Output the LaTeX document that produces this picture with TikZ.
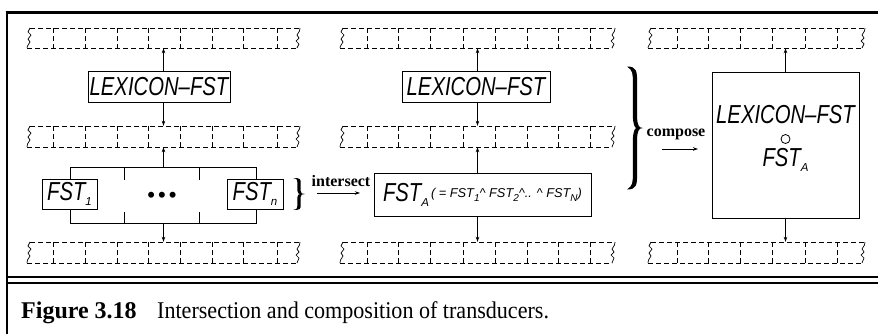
\documentclass[tikz,border=0pt]{standalone}
\usepackage{fontspec}
\setmainfont{Liberation Serif}
\newfontfamily\helv[FakeStretch=0.78]{Liberation Sans}
\newfontfamily\helvw{Liberation Sans}
\newfontfamily\capfont[FakeStretch=0.92]{Liberation Serif}
\usetikzlibrary{arrows.meta}
\newcommand\tapedraw[6]{%
  \node[tapebox, minimum width={(#3-#2)*1pt}, minimum height={(#5-#4)*1pt}] (#1) at ({(#2+#3)/2},{(#4+#5)/2}) {};
  \draw[dsh] (#2+3,#4) -- (#3,#4);
  \draw[dsh] (#2,#5) -- (#3-3,#5);
  \foreach \d in {#6} {\draw[dsh] (\d,#4) -- (\d,#5);}
  \draw[sq] (#2+3,#4) -- (#2+1,#4+4) -- (#2+4,#4+7) -- (#2+1,#4+11) -- (#2+3,#4+14) -- (#2+0.5,#4+18) -- (#2,#5);
  \draw[sq] (#3,#4) -- (#3-0.5,#4+3) -- (#3-3,#4+7) -- (#3-1,#4+10) -- (#3-4,#4+13) -- (#3-1,#4+16) -- (#3-3,#5);
}
% filled right brace: centre x, centre y, width, height, stroke thickness
\newcommand\bracefill[5]{%
  \fill (#1-#3/2,#2-#4/2)
    .. controls (#1+#5/2,#2-#4/2) and (#1+#5/2,#2-#4/2+0.04*#4) .. (#1+#5/2,#2-0.36*#4)
    -- (#1+#5/2,#2-0.1*#4)
    .. controls (#1+#5/2,#2-0.02*#4) and (#1+#3/4,#2) .. (#1+#3/2,#2)
    .. controls (#1+#3/4,#2) and (#1+#5/2,#2+0.02*#4) .. (#1+#5/2,#2+0.1*#4)
    -- (#1+#5/2,#2+0.36*#4)
    .. controls (#1+#5/2,#2+#4/2-0.04*#4) and (#1+#5/2,#2+#4/2) .. (#1-#3/2,#2+#4/2)
    .. controls (#1-#5/2,#2+#4/2-0.03*#4) and (#1-#5/2,#2+#4/2-0.06*#4) .. (#1-#5/2,#2+0.36*#4)
    -- (#1-#5/2,#2+0.1*#4)
    .. controls (#1-#5/2,#2+0.03*#4) and (#1,#2) .. (#1+#5/3,#2)
    .. controls (#1,#2) and (#1-#5/2,#2-0.03*#4) .. (#1-#5/2,#2-0.1*#4)
    -- (#1-#5/2,#2-0.36*#4)
    .. controls (#1-#5/2,#2-#4/2+0.06*#4) and (#1-#5/2,#2-#4/2+0.03*#4) .. (#1-#3/2,#2-#4/2)
    -- cycle;
}
\newcommand\sub[1]{\raisebox{-5pt}{\helvw\itshape\fontsize{11.5}{11.5}\selectfont #1}}
\newcommand\ssub[1]{\raisebox{-4pt}{\fontsize{10}{10}\selectfont #1}}
\begin{document}
\begin{tikzpicture}[x=1pt,y=-1pt,
  box/.style={draw,line width=0.9pt,inner sep=0pt,font=\helv\itshape\fontsize{26}{26}\selectfont},
  txt/.style={inner sep=0pt,font=\helv\itshape\fontsize{26}{26}\selectfont},
  tapebox/.style={inner sep=0pt,draw=none},
  dsh/.style={dash pattern=on 5pt off 3pt,line width=0.8pt},
  sq/.style={line width=0.7pt},
  arr/.style={-{Stealth[length=5pt,width=3.5pt]},line width=0.8pt},
  ln/.style={line width=0.9pt},
  lbl/.style={font=\bfseries\fontsize{16}{16}\selectfont,inner sep=0pt}]
\useasboundingbox (0,0) rectangle (878,333);
\clip (0,0) rectangle (878,333);
% frame
\draw[line width=3pt] (5.7,12) -- (890,12);
\draw[line width=2.6pt] (7,10.5) -- (7,340);
\draw[line width=2pt] (7,277) -- (890,277);
\draw[line width=2pt] (7,282.5) -- (890,282.5);
% tapes
\tapedraw{tL1}{27}{300}{28}{48}{53,85,117,148,180,212,243,277}
\tapedraw{tL2}{27}{300}{126}{147}{53,85,117,148,180,212,243,277}
\tapedraw{tL3}{27}{300}{242}{263}{53,85,117,148,180,212,243,277}
\tapedraw{tM1}{340}{615}{28}{48}{367,398,430,463,495,527,558,590}
\tapedraw{tM2}{340}{615}{126}{147}{367,398,430,463,495,527,558,590}
\tapedraw{tM3}{340}{615}{242}{263}{367,398,430,463,495,527,558,590}
\tapedraw{tR1}{648}{865}{28}{48}{677,708,740,772,805,837}
\tapedraw{tR3}{648}{865}{242}{263}{677,708,740,772,805,837}
% left column
\node[box,minimum width=142pt,minimum height=31pt] (lexL) at (159,86.5) {LEXICON–FST};
\draw[arr] (lexL.north -| tL1.center) -- (tL1.south);
\draw[arr] (lexL.south -| tL2.center) -- (tL2.north);
\node[tapebox,minimum width=185pt,minimum height=55pt] (grp) at (163.5,195.5) {};
\node[box,minimum width=55pt,minimum height=30pt] (f1) at (69.5,194) {FST\sub{1}};
\node[box,minimum width=56pt,minimum height=30pt] (fn) at (255,194) {FST\sub{n}};
\draw[ln] (grp.west |- f1.north) -- (grp.north west) -- (grp.north east) -- (grp.east |- fn.north);
\draw[ln] (grp.west |- f1.south) -- (grp.south west) -- (grp.south east) -- (grp.east |- fn.south);
\draw[ln] (124,168) -- (124,180);
\draw[ln] (199,168) -- (199,180);
\draw[ln] (124,212) -- (124,223);
\draw[ln] (199,212) -- (199,223);
\node[inner sep=0pt,font=\helvw\fontsize{22}{22}\selectfont] (dots) at (162,197) {•\hspace{3pt}•\hspace{3pt}•};
\draw[arr] (grp.north -| tL2.center) -- (tL2.south);
\draw[arr] (grp.south -| tL3.center) -- (tL3.north);
% intersect
\bracefill{299}{194}{12}{32}{3.2}
\node[lbl] (isect) at (341,181) {intersect};
\coordinate (ia1) at (317,193);
\coordinate (ia2) at (360,193);
\draw[arr] (ia1) -- (ia2);
% middle column
\node[box,minimum width=148pt,minimum height=31pt] (lexM) at (476,86.5) {LEXICON–FST};
\draw[arr] (lexM.north -| tM1.center) -- (tM1.south);
\draw[arr] (lexM.south -| tM2.center) -- (tM2.north);
\node[box,minimum width=217pt,minimum height=43pt] (fa) at (482.5,194.5)
  {FST\sub{A}\hspace{2pt}\raisebox{4pt}{\helvw\itshape\fontsize{12.8}{12.8}\selectfont( = FST\ssub{1}\textasciicircum\ FST\ssub{2}\textasciicircum.. \textasciicircum\ FST\ssub{N})}};
\draw[arr] (fa.north -| tM2.center) -- (tM2.south);
\draw[arr] (fa.south -| tM3.center) -- (tM3.north);
% compose
\bracefill{635}{128}{16}{123}{4.2}
\node[lbl] (comp) at (676,134) {compose};
\coordinate (ca1) at (662,149);
\coordinate (ca2) at (698,149);
\draw[arr] (ca1) -- (ca2);
% right column
\node[box,minimum width=147pt,minimum height=146pt] (big) at (785.5,145) {};
\node[txt] (bigl) at (785.5,115) {LEXICON–FST};
\node[draw,circle,line width=0.8pt,inner sep=0pt,minimum size=9pt] (circ) at (785.5,139) {};
\node[txt] (bigf) at (785.5,160) {FST\sub{A}};
\draw[arr] (big.north) -- (big.north |- tR1.south);
\draw[arr] (big.south) -- (big.south |- tR3.north);
% caption
\node[anchor=base west,inner sep=0pt,font=\bfseries\fontsize{24}{24}\selectfont] (figno) at (21,318) {Figure 3.18};
\node[anchor=base west,inner sep=0pt,font=\capfont\fontsize{24}{24}\selectfont] (cap) at (157,318) {Intersection and composition of transducers.};
\end{tikzpicture}
\end{document}
